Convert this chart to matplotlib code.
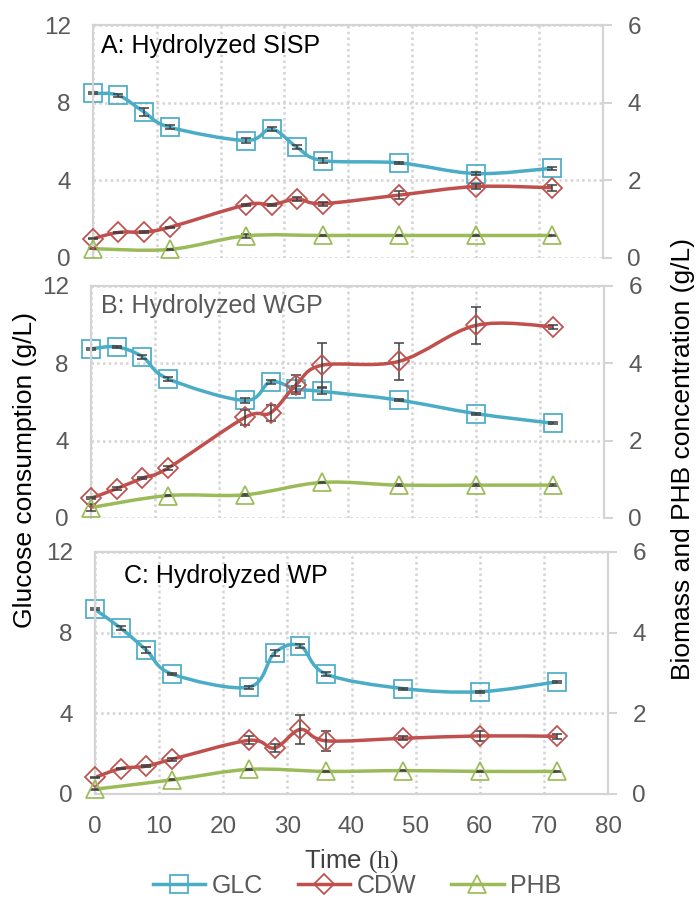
import numpy as np
import matplotlib
matplotlib.use("Agg")
import matplotlib.pyplot as plt
from matplotlib.path import Path
from matplotlib.patches import PathPatch
from matplotlib.lines import Line2D

plt.rcParams['font.family'] = ['Liberation Sans', 'DejaVu Sans']
plt.rcParams['mathtext.fontset'] = 'custom'
plt.rcParams['mathtext.rm'] = 'Liberation Serif'

# sampling times (h)
t_all = [0, 4, 8, 12, 24, 28, 32, 36, 48, 60, 72]
t_phb = [0, 12, 24, 36, 48, 60, 72]

# A: hydrolyzed SISP  (GLC on left axis, CDW / PHB on right axis)
glc_a = [8.48, 8.38, 7.52, 6.74, 6.05, 6.65, 5.70, 5.02, 4.90, 4.35, 4.62]
glc_err_a = [0.05, 0.08, 0.2, 0.12, 0.12, 0.1, 0.1, 0.12, 0.05, 0.08, 0.08]
cdw_a = [0.50, 0.66, 0.67, 0.79, 1.37, 1.37, 1.52, 1.40, 1.62, 1.84, 1.81]
cdw_err_a = [0.02, 0.02, 0.02, 0.02, 0.03, 0.03, 0.04, 0.05, 0.1, 0.07, 0.08]
phb_a = [0.24, 0.22, 0.57, 0.58, 0.58, 0.58, 0.58]
phb_err_a = [0.01, 0.01, 0.05, 0.02, 0.02, 0.02, 0.02]

# B: hydrolyzed WGP
glc_b = [8.75, 8.85, 8.35, 7.2, 6.08, 7.05, 6.67, 6.55, 6.1, 5.4, 4.9]
glc_err_b = [0.05, 0.05, 0.1, 0.1, 0.15, 0.1, 0.15, 0.15, 0.05, 0.05, 0.05]
cdw_b = [0.51, 0.76, 1.03, 1.29, 2.6, 2.72, 3.45, 3.95, 4.05, 4.98, 4.95]
cdw_err_b = [0.03, 0.03, 0.03, 0.05, 0.2, 0.2, 0.25, 0.57, 0.47, 0.47, 0.05]
phb_b = [0.27, 0.58, 0.6, 0.92, 0.85, 0.85, 0.85]
phb_err_b = [0.1, 0.02, 0.02, 0.02, 0.02, 0.02, 0.02]

# C: hydrolyzed WP
glc_c = [9.15, 8.23, 7.13, 5.95, 5.3, 7.0, 7.35, 5.95, 5.23, 5.07, 5.56]
glc_err_c = [0.05, 0.08, 0.15, 0.05, 0.08, 0.15, 0.1, 0.08, 0.05, 0.05, 0.05]
cdw_c = [0.41, 0.63, 0.69, 0.86, 1.33, 1.14, 1.6, 1.32, 1.38, 1.44, 1.43]
cdw_err_c = [0.02, 0.02, 0.02, 0.03, 0.1, 0.1, 0.36, 0.25, 0.05, 0.12, 0.06]
phb_c = [0.12, 0.35, 0.61, 0.56, 0.58, 0.56, 0.56]
phb_err_c = [0.01, 0.01, 0.02, 0.02, 0.02, 0.02, 0.02]

GLC_COL = '#4BACC6'
CDW_COL = '#C0504D'
PHB_COL = '#9BBB59'
GRID = '#D4D4D4'
TXT = '#595959'

W, H = 696, 899
fig = plt.figure(figsize=(W / 100, H / 100), dpi=100)


def smooth_curve(ax, x, y, color):
    # Excel-like smoothed line: cubic Bezier segments through the points
    P = np.column_stack([x, y]).astype(float)
    n = len(P)
    verts = [P[0]]
    codes = [Path.MOVETO]
    for i in range(n - 1):
        p0 = P[i - 1] if i > 0 else P[i]
        p1, p2 = P[i], P[i + 1]
        p3 = P[i + 2] if i + 2 < n else P[i + 1]
        verts += [p1 + (p2 - p0) / 6, p2 - (p3 - p1) / 6, p2]
        codes += [Path.CURVE4] * 3
    patch = PathPatch(Path(verts, codes), fill=False, edgecolor=color,
                      lw=2.5, transform=ax.transData, zorder=2, clip_on=False)
    ax.add_patch(patch)


def series(ax, x, y, err, color, marker, ms):
    smooth_curve(ax, x, y, color)
    ax.errorbar(x, y, yerr=err, fmt='none', ecolor='#404040', elinewidth=1.1,
                capsize=3.5, capthick=1.1, zorder=3, clip_on=False)
    ax.plot(x, y, ls='none', marker=marker, ms=ms, mfc='none', mec=color,
            mew=1.25, zorder=4, clip_on=False)


def panel(box, title, title_col, tx, glc, glc_err, cdw, cdw_err, phb, phb_err, bottom=False):
    l, r, top, b = box
    ax = fig.add_axes([l / W, 1 - b / H, (r - l) / W, (b - top) / H])
    ax2 = ax.twinx()

    ax.set_xlim(0, 80)
    ax.set_ylim(0, 12)
    ax2.set_ylim(0, 6)
    ax.set_xticks(range(0, 81, 10))
    ax.set_yticks([0, 4, 8, 12])
    ax2.set_yticks([0, 2, 4, 6])
    ax.grid(True, color=GRID, ls=(0, (1, 1.3)), lw=1.8)
    ax.set_axisbelow(True)

    for s in ax.spines.values():
        s.set_visible(False)
    for s in ax2.spines.values():
        s.set_color(GRID)
        s.set_linewidth(1.6)
    ax2.spines['bottom'].set_visible(bottom)

    ax.tick_params(axis='y', length=0, pad=16, labelsize=17.5, labelcolor=TXT)
    ax.tick_params(axis='x', length=0, pad=16, labelsize=17.5, labelcolor=TXT,
                   labelbottom=bottom)
    ax2.tick_params(axis='y', length=6.5, width=1.5, color=GRID, pad=11,
                    labelsize=17.5, labelcolor=TXT)

    series(ax, tx, glc, glc_err, GLC_COL, 's', 12.5)
    series(ax2, tx, cdw, cdw_err, CDW_COL, 'D', 10)
    series(ax2, t_phb, phb, phb_err, PHB_COL, '^', 12.5)

    ax.text(title[1], title[2], title[0], transform=ax.transAxes, fontsize=18,
            color=title_col, va='baseline', ha='left')
    return ax


panel((93, 603, 25, 258), ("A: Hydrolyzed SISP", 0.016, 0.881), 'black',
      t_all, glc_a, glc_err_a, cdw_a, cdw_err_a, phb_a, phb_err_a)
panel((91, 604, 286, 518), ("B: Hydrolyzed WGP", 0.02, 0.882), TXT,
      t_all, glc_b, glc_err_b, cdw_b, cdw_err_b, phb_b, phb_err_b)
panel((95, 608, 552, 794), ("C: Hydrolyzed WP", 0.056, 0.873), 'black',
      t_all, glc_c, glc_err_c, cdw_c, cdw_err_c, phb_c, phb_err_c, bottom=True)

fig.text(25 / W, 1 - 470 / H, "Glucose consumption (g/L)", rotation=90,
         fontsize=19, ha='center', va='center', color='black')
fig.text(683 / W, 1 - 459 / H, "Biomass and PHB concentration (g/L)", rotation=90,
         fontsize=19, ha='center', va='center', color='black')
fig.text(352 / W, 1 - 861 / H, r"Time $\mathrm{(h)}$", fontsize=18.5,
         ha='center', va='center', color='#404040')

handles = [
    Line2D([], [], color=GLC_COL, lw=2.5, marker='s', ms=12.5, mfc='none', mew=1.25),
    Line2D([], [], color=CDW_COL, lw=2.5, marker='D', ms=10, mfc='none', mew=1.25),
    Line2D([], [], color=PHB_COL, lw=2.5, marker='^', ms=12.5, mfc='none', mew=1.25),
]
leg = fig.legend(handles, ['GLC', 'CDW', 'PHB'], loc='center',
                 bbox_to_anchor=(357 / W, 1 - 886 / H), ncol=3, frameon=False,
                 fontsize=18, handlelength=2.1, handletextpad=0.25,
                 columnspacing=1.4, labelcolor=TXT)

fig.savefig("out.png", dpi=100)
